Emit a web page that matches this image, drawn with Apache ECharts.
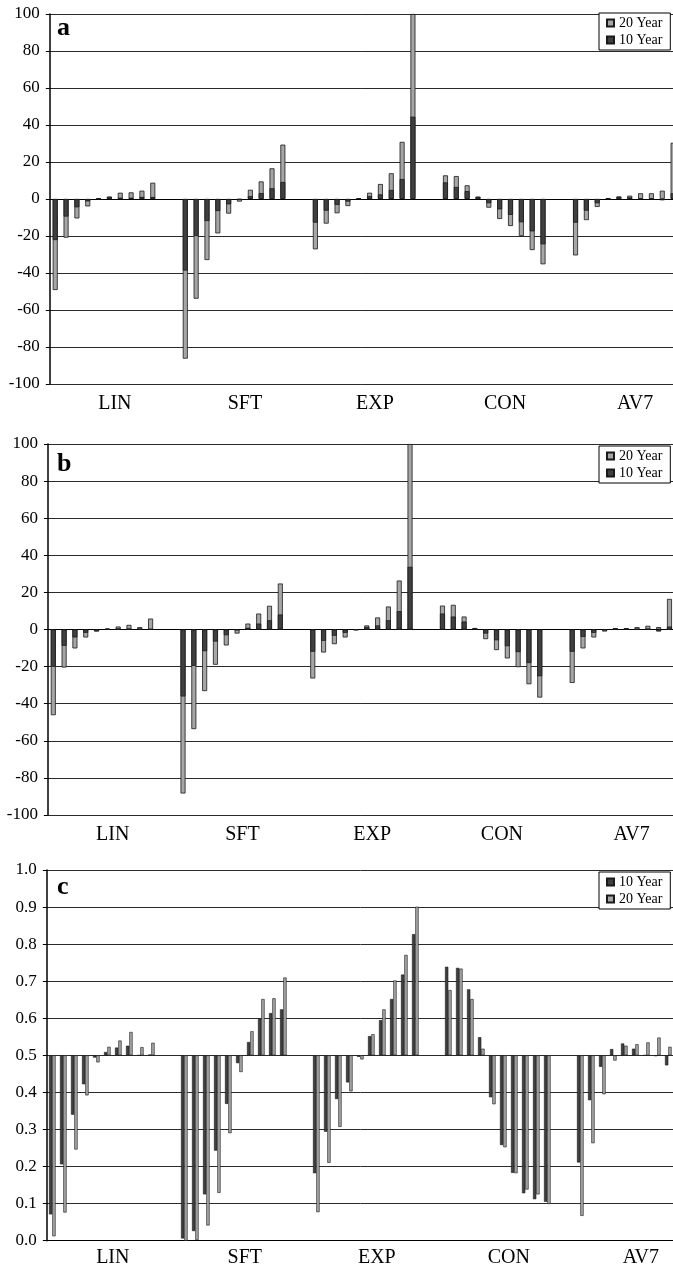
<!DOCTYPE html>
<html><head><meta charset="utf-8">
<script src="https://cdn.jsdelivr.net/npm/echarts@6/dist/echarts.min.js"></script>
<style>html,body{margin:0;padding:0;background:#fff}#c{width:673px;height:1269px}</style>
</head><body><div id="c"></div>
<script>
const groups = ['LIN','SFT','EXP','CON','AV7'];
const barsPerGroup = 10;
const gapSlots = 2;

// Panel a (LIN x10, SFT x10, EXP x10, CON x10, AV7 x10)
const a10Year = [
 -22.2,-9.5,-4.5,-1.3,0.3,1.2,0.7,0.7,1.1,1.1,
 -38.7,-20.0,-11.9,-6.5,-2.9,-0.3,1.6,3.2,5.8,9.2,
 -12.8,-6.3,-3.2,-1.4,0.3,1.6,2.5,4.9,10.8,44.5,
 9.0,6.5,4.3,1.3,-2.3,-5.6,-8.6,-12.6,-17.5,-24.5,
 -12.8,-6.3,-2.3,0.3,1.1,0.9,0.2,0.2,-0.7,3.1];
const a20Year = [
 -49.2,-20.9,-10.5,-4.0,0.2,1.3,3.4,3.6,4.5,8.8,
 -86.3,-53.9,-33.0,-18.6,-7.9,-1.4,5.0,9.5,16.6,29.4,
 -27.2,-13.3,-7.7,-3.8,0.4,3.4,8.1,13.9,30.9,100,
 12.8,12.4,7.4,1.1,-4.7,-10.8,-14.6,-20.0,-27.6,-35.3,
 -30.5,-11.4,-4.3,0.5,1.4,1.8,3.1,3.1,4.5,30.4];

// Panel b
const b10Year = [
 -20.1,-8.8,-4.3,-1.8,-1.1,0.4,0.4,0.4,0.4,0.1,
 -36.1,-19.6,-11.7,-6.5,-3.1,-0.3,0.9,3.2,5.0,8.1,
 -12.0,-6.1,-3.4,-1.8,-0.3,1.4,2.2,5.0,9.9,33.8,
 8.6,7.0,4.3,0.8,-2.2,-5.8,-9.0,-12.2,-18.1,-25.2,
 -12.0,-4.0,-1.8,-0.3,0.7,0.7,0.2,0.3,-1.1,1.6];
const b20Year = [
 -46.2,-20.5,-10.2,-4.3,-0.9,0.4,1.6,2.5,1.3,5.9,
 -88.4,-53.7,-33.2,-19.0,-8.6,-2.2,3.2,8.6,12.8,24.8,
 -26.4,-12.4,-7.9,-4.3,-0.2,2.2,6.5,12.4,26.4,100,
 12.9,13.3,7.0,0.6,-5.2,-11.1,-15.6,-20.3,-29.5,-36.7,
 -28.8,-10.2,-4.3,-1.1,0.6,0.6,1.3,2.0,1.3,16.5];

// Panel c
const c10Year = [
 0.071,0.206,0.340,0.422,0.494,0.509,0.521,0.526,0.500,0.502,
 0.006,0.026,0.125,0.243,0.369,0.479,0.536,0.600,0.614,0.624,
 0.182,0.294,0.382,0.427,0.496,0.552,0.595,0.652,0.718,0.827,
 0.739,0.736,0.678,0.549,0.387,0.258,0.183,0.128,0.112,0.105,
 0.211,0.379,0.469,0.517,0.532,0.518,0.500,0.498,0.473,0.490];
const c20Year = [
 0.012,0.076,0.246,0.392,0.481,0.523,0.540,0.563,0.522,0.534,
 0.000,0.002,0.041,0.129,0.290,0.455,0.565,0.652,0.654,0.710,
 0.077,0.210,0.307,0.403,0.489,0.557,0.624,0.702,0.771,0.901,
 0.676,0.734,0.652,0.518,0.368,0.252,0.182,0.138,0.125,0.099,
 0.067,0.263,0.395,0.486,0.526,0.530,0.535,0.548,0.523,0.550];

const aTicks = {min:-100, max:100, interval:20};
const cTicks = {min:0, max:1, interval:0.1, base:0.5};

function expand(vals){
  const out=[];
  for(let g=0; g<groups.length; g++){
    for(let i=0;i<barsPerGroup;i++) out.push(vals[g*barsPerGroup+i]);
    for(let k=0;k<gapSlots;k++) out.push(null);
  }
  return out;
}
const slotCats=[];
groups.forEach(g=>{for(let i=0;i<barsPerGroup+gapSlots;i++) slotCats.push(g+'-'+(i+1));});

const SERIF='"Liberation Serif", "Times New Roman", serif';
const DARK='#404040', LIGHT='#a6a6a6', EDGE='#1a1a1a';

const gridDefs=[
  {left:49.8, top:14, width:650.4, height:370, outerBoundsMode:'none'},
  {left:47.9, top:444, width:648.6, height:371, outerBoundsMode:'none'},
  {left:46.8, top:870, width:660, height:370.7, outerBoundsMode:'none'}
];
const labelMargin=[10,10,7];

const xAxes=[], yAxes=[];
gridDefs.forEach((g,k)=>{
  xAxes.push({gridIndex:k, type:'category', data:slotCats, position:'bottom',
    axisLine:{show:true, onZero:true, lineStyle:{color:'#000', width:1.2}},
    axisTick:{show:false}, axisLabel:{show:false}, splitLine:{show:false}});
  xAxes.push({gridIndex:k, type:'category', data:groups, position:'bottom',
    axisLine:{show:false, onZero:false}, axisTick:{show:false}, splitLine:{show:false},
    axisLabel:{show:true, interval:0, margin:labelMargin[k], fontFamily:SERIF, fontSize:20, color:'#000'}});
  const isC = k===2;
  const t = isC ? cTicks : aTicks;
  yAxes.push({gridIndex:k, type:'value', min:t.min, max:t.max, interval:t.interval,
    startValue: isC ? t.base : 0,
    axisLine:{show:true, lineStyle:{color:'#000', width:1.5}},
    axisTick:{show:true, inside:false, length:4, lineStyle:{color:'#000', width:1}},
    axisLabel:{fontFamily:SERIF, fontSize:17, color:'#000', margin:10,
      formatter: isC ? (v=>v.toFixed(1)) : (v=>String(v))},
    splitLine:{show:true, lineStyle:{color:'#2a2a2a', width:1}}});
});

function overlapSeries(k, d10, d20){
  return [
    {name:'20 Year', type:'bar', xAxisIndex:2*k, yAxisIndex:k, data:expand(d20),
     barWidth:5, barGap:'-100%', itemStyle:{color:LIGHT, borderColor:EDGE, borderWidth:0.8}, z:2},
    {name:'10 Year', type:'bar', xAxisIndex:2*k, yAxisIndex:k, data:expand(d10),
     barWidth:5, barGap:'-100%', itemStyle:{color:DARK, borderColor:EDGE, borderWidth:0.8}, z:3}
  ];
}
const series=[
  ...overlapSeries(0,a10Year,a20Year),
  ...overlapSeries(1,b10Year,b20Year),
  {name:'10 Year', type:'bar', xAxisIndex:4, yAxisIndex:2, data:expand(c10Year),
   barWidth:3.3, barGap:'0%', itemStyle:{color:DARK, borderColor:EDGE, borderWidth:0.6}},
  {name:'20 Year', type:'bar', xAxisIndex:4, yAxisIndex:2, data:expand(c20Year),
   barWidth:3.3, barGap:'0%', itemStyle:{color:LIGHT, borderColor:EDGE, borderWidth:0.6}}
];

function legendAt(top, order){
  return {orient:'vertical', left:599, top:top, data:order, selectedMode:false,
    icon:'rect', itemWidth:7, itemHeight:7, itemGap:3, padding:[3,8,3,7],
    borderColor:'#000', borderWidth:1, backgroundColor:'#fff',
    textStyle:{fontFamily:SERIF, fontSize:14, color:'#000'}};
}

const panelLetters=[{t:'a',top:15},{t:'b',top:451},{t:'c',top:874}];

const chart=echarts.init(document.getElementById('c'),null,{renderer:'canvas'});
chart.setOption({
  animation:false,
  backgroundColor:'#fff',
  grid:gridDefs,
  xAxis:xAxes,
  yAxis:yAxes,
  legend:[legendAt(13,['20 Year','10 Year']), legendAt(446,['20 Year','10 Year']), legendAt(872,['10 Year','20 Year'])],
  graphic: panelLetters.map(p=>({type:'text', left:57, top:p.top, z:100,
    style:{text:p.t, font:'bold 26px "Liberation Serif"', fill:'#000'}})),
  series:series
});
</script></body></html>
